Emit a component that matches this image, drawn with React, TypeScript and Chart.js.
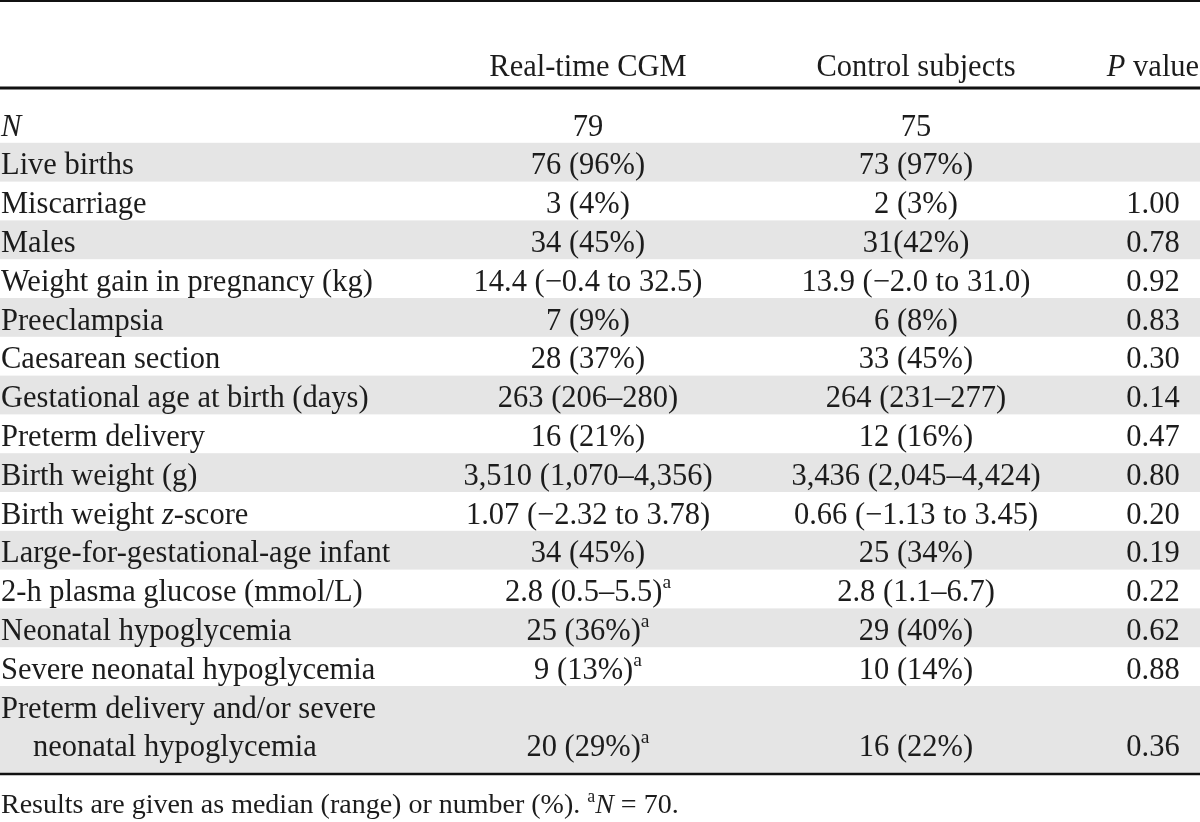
import React, { useEffect, useRef } from "react";
import { Chart, registerables } from "chart.js";

Chart.register(...registerables);

// ---------- DATA ----------
// markup: *text* = italic, ^a = superscript "a", \n = second (indented) line
const columnHeaders = ["", "Real-time CGM", "Control subjects", "*P* value"];

const rowLabels = [
  "*N*",
  "Live births",
  "Miscarriage",
  "Males",
  "Weight gain in pregnancy (kg)",
  "Preeclampsia",
  "Caesarean section",
  "Gestational age at birth (days)",
  "Preterm delivery",
  "Birth weight (g)",
  "Birth weight *z*-score",
  "Large-for-gestational-age infant",
  "2-h plasma glucose (mmol/L)",
  "Neonatal hypoglycemia",
  "Severe neonatal hypoglycemia",
  "Preterm delivery and/or severe\nneonatal hypoglycemia",
];

const cgmValues = [
  "79",
  "76 (96%)",
  "3 (4%)",
  "34 (45%)",
  "14.4 (\u22120.4 to 32.5)",
  "7 (9%)",
  "28 (37%)",
  "263 (206\u2013280)",
  "16 (21%)",
  "3,510 (1,070\u20134,356)",
  "1.07 (\u22122.32 to 3.78)",
  "34 (45%)",
  "2.8 (0.5\u20135.5)^a",
  "25 (36%)^a",
  "9 (13%)^a",
  "20 (29%)^a",
];

const controlValues = [
  "75",
  "73 (97%)",
  "2 (3%)",
  "31(42%)",
  "13.9 (\u22122.0 to 31.0)",
  "6 (8%)",
  "33 (45%)",
  "264 (231\u2013277)",
  "12 (16%)",
  "3,436 (2,045\u20134,424)",
  "0.66 (\u22121.13 to 3.45)",
  "25 (34%)",
  "2.8 (1.1\u20136.7)",
  "29 (40%)",
  "10 (14%)",
  "16 (22%)",
];

const pValues = [
  "",
  "",
  "1.00",
  "0.78",
  "0.92",
  "0.83",
  "0.30",
  "0.14",
  "0.47",
  "0.80",
  "0.20",
  "0.19",
  "0.22",
  "0.62",
  "0.88",
  "0.36",
];

const footnote = "Results are given as median (range) or number (%). ^a*N* = 70.";

// ---------- LAYOUT / STYLE ----------
const W = 1200;
const H = 822;
const FONT_FAMILY = '"Liberation Serif", "Times New Roman", serif';
const MAIN_SIZE = 30.5;
const NOTE_SIZE = 28;
const TEXT_COLOR = "#1c1c1c";
const BAND_COLOR = "#e5e5e5";

// y scale in "row units": row k starts at value k
const Y_MIN = -2.6804;
const Y_MAX = 18.505;
const TWO_LINE_SPAN = 2.24;
const BASELINE_OFF = 0.812;
const LINE_STEP = 0.99;
const HEADER_BASELINE = -0.7216;
const TOP_RULE = -2.655;
const HEADER_RULE = -0.412;
const BOTTOM_RULE = 17.268;
const NOTE_BASELINE = 18.281;

// x scale: 0..1200 column units
const X_LABEL = 1;
const X_INDENT = 33;
const X_CGM = 588;
const X_CTRL = 916;
const X_P = 1153;

type Seg = { text: string; italic: boolean; sup: boolean };

function parseRich(s: string): Seg[] {
  const segs: Seg[] = [];
  let italic = false;
  let buf = "";
  const flush = () => {
    if (buf) segs.push({ text: buf, italic, sup: false });
    buf = "";
  };
  for (let i = 0; i < s.length; i++) {
    const c = s[i];
    if (c === "*") {
      flush();
      italic = !italic;
    } else if (c === "^") {
      flush();
      segs.push({ text: s[i + 1], italic: false, sup: true });
      i++;
    } else {
      buf += c;
    }
  }
  flush();
  return segs;
}

function segFont(seg: Seg, size: number) {
  const sz = seg.sup ? size * 0.64 : size;
  return `${seg.italic ? "italic " : ""}${sz}px ${FONT_FAMILY}`;
}

function drawRich(
  ctx: CanvasRenderingContext2D,
  s: string,
  x: number,
  y: number,
  align: "left" | "center",
  size: number
) {
  const segs = parseRich(s);
  ctx.textAlign = "left";
  ctx.textBaseline = "alphabetic";
  let total = 0;
  const widths = segs.map((seg) => {
    ctx.font = segFont(seg, size);
    const w = ctx.measureText(seg.text).width;
    total += w;
    return w;
  });
  let cx = align === "center" ? x - total / 2 : x;
  segs.forEach((seg, i) => {
    ctx.font = segFont(seg, size);
    ctx.fillText(seg.text, cx, seg.sup ? y - size * 0.42 : y);
    cx += widths[i];
  });
}

const tablePlugin = {
  id: "tablePlugin",
  beforeDatasetsDraw(chart: any) {
    const { ctx } = chart;
    const xs = chart.scales.x;
    const ys = chart.scales.y;
    const x0 = xs.getPixelForValue(0);
    const x1 = xs.getPixelForValue(W);
    ctx.save();
    // shaded bands
    let top = 0;
    rowLabels.forEach((lab, i) => {
      const span = lab.includes("\n") ? TWO_LINE_SPAN : 1;
      if (i % 2 === 1) {
        const p0 = ys.getPixelForValue(top);
        const p1 = ys.getPixelForValue(top + span);
        ctx.fillStyle = BAND_COLOR;
        ctx.fillRect(x0, p0, x1 - x0, p1 - p0);
      }
      top += span;
    });
    // rules
    const rule = (v: number, lw: number) => {
      const p = ys.getPixelForValue(v);
      ctx.strokeStyle = "#111";
      ctx.lineWidth = lw;
      ctx.beginPath();
      ctx.moveTo(x0, p);
      ctx.lineTo(x1, p);
      ctx.stroke();
    };
    rule(TOP_RULE, 2);
    rule(HEADER_RULE, 3);
    rule(BOTTOM_RULE, 2.5);
    ctx.restore();
  },
  afterDatasetsDraw(chart: any) {
    const { ctx } = chart;
    const xs = chart.scales.x;
    const ys = chart.scales.y;
    ctx.save();
    ctx.fillStyle = TEXT_COLOR;
    const colX = [X_LABEL, X_CGM, X_CTRL, X_P];
    // headers
    columnHeaders.forEach((h, c) => {
      if (!h) return;
      drawRich(ctx, h, xs.getPixelForValue(colX[c]), ys.getPixelForValue(HEADER_BASELINE), c === 0 ? "left" : "center", MAIN_SIZE);
    });
    // rows
    let top = 0;
    rowLabels.forEach((lab, i) => {
      const lines = lab.split("\n");
      const span = lines.length > 1 ? TWO_LINE_SPAN : 1;
      lines.forEach((ln, li) => {
        const xv = li === 0 ? X_LABEL : X_INDENT;
        drawRich(ctx, ln, xs.getPixelForValue(xv), ys.getPixelForValue(top + BASELINE_OFF + li * LINE_STEP), "left", MAIN_SIZE);
      });
      const lastBase = ys.getPixelForValue(top + BASELINE_OFF + (lines.length - 1) * LINE_STEP);
      [cgmValues[i], controlValues[i], pValues[i]].forEach((v, c) => {
        if (!v) return;
        drawRich(ctx, v, xs.getPixelForValue(colX[c + 1]), lastBase, "center", MAIN_SIZE);
      });
      top += span;
    });
    // footnote
    drawRich(ctx, footnote, xs.getPixelForValue(X_LABEL), ys.getPixelForValue(NOTE_BASELINE), "left", NOTE_SIZE);
    ctx.restore();
  },
};

export default function App() {
  const canvasRef = useRef<HTMLCanvasElement | null>(null);

  useEffect(() => {
    if (!canvasRef.current) return;
    const chart = new Chart(canvasRef.current, {
      type: "scatter",
      data: { datasets: [] },
      options: {
        animation: false,
        responsive: false,
        maintainAspectRatio: false,
        devicePixelRatio: 1,
        layout: { padding: 0 },
        events: [],
        plugins: {
          legend: { display: false },
          tooltip: { enabled: false },
          title: { display: false },
        },
        scales: {
          x: { type: "linear", min: 0, max: W, display: false },
          y: { type: "linear", min: Y_MIN, max: Y_MAX, reverse: true, display: false },
        },
      },
      plugins: [tablePlugin],
    });
    return () => chart.destroy();
  }, []);

  return (
    <div style={{ position: "absolute", left: 0, top: 0, width: W, height: H, background: "#fff" }}>
      <canvas ref={canvasRef} width={W} height={H} style={{ display: "block" }} />
    </div>
  );
}
